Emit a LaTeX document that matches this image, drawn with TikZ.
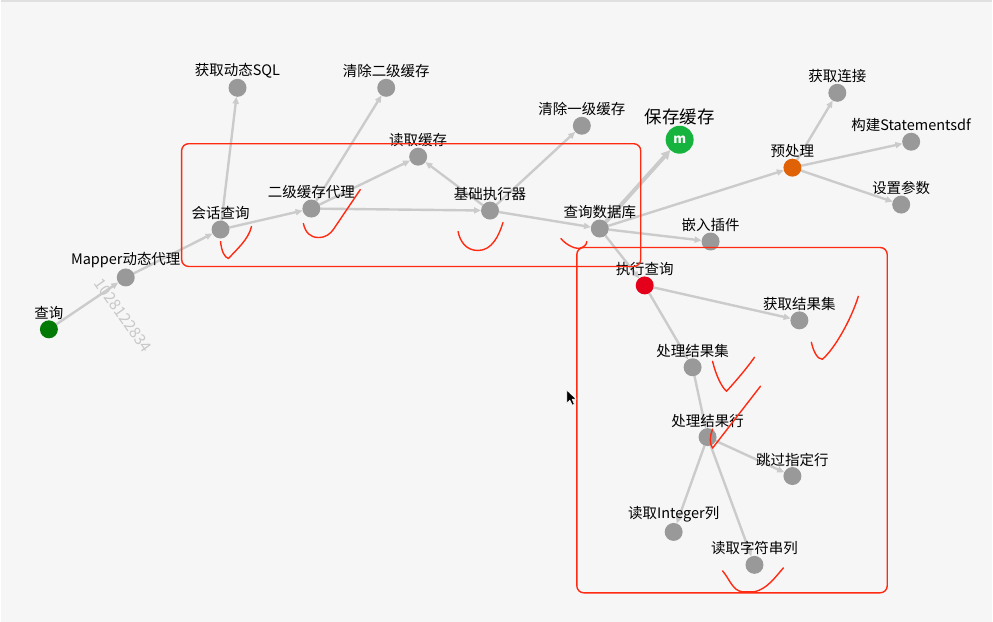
\documentclass[tikz,border=0pt]{standalone}
\usepackage{fontspec}
\setmainfont{Noto Sans CJK SC}
\usetikzlibrary{arrows.meta}
\definecolor{bgc}{HTML}{F6F6F6}
\definecolor{edgec}{HTML}{CBCBCB}
\definecolor{nodec}{HTML}{999999}
\definecolor{markc}{HTML}{FF2A12}
\definecolor{startc}{HTML}{037A06}
\definecolor{savec}{HTML}{16B43E}
\definecolor{prec}{HTML}{E06206}
\definecolor{execc}{HTML}{E4001B}
\definecolor{wmc}{HTML}{C8C8C8}
\pgfdeclarelayer{bglayer}
\pgfdeclarelayer{edgelayer}
\pgfsetlayers{bglayer,edgelayer,main}
\tikzset{
  vtx/.style={circle, fill=nodec, minimum size=18pt, inner sep=0pt, outer sep=0pt},
  lbl/.style={label={[font=\fontsize{14.5}{16}\selectfont, inner sep=0.5pt]above:#1}},
  link/.style={draw=edgec, line width=2.4pt, -{Triangle[length=7pt,width=6pt]}},
  biglink/.style={draw=edgec, line width=4pt, -{Triangle[length=9pt,width=9pt]}},
  redbox/.style={draw=markc, line width=1.4pt, rounded corners=7pt},
  redmark/.style={draw=markc, line width=1.4pt, line cap=round, line join=round},
}
\begin{document}
\begin{tikzpicture}[x=1pt,y=-1pt]
\begin{pgfonlayer}{bglayer}
\fill[bgc] (0,0) rectangle (993,623);
\draw[draw=black!12, line width=2pt] (0,1) -- (993,1);
\end{pgfonlayer}
\useasboundingbox (0,0) rectangle (993,623);

% watermark
\node[text=wmc, rotate=-54.7, font=\fontsize{15.5}{17}\selectfont] (wm) at (122,316) {1028122834};

% nodes
\node[vtx, fill=startc, lbl={查询}] (q) at (48,330) {};
\node[vtx, lbl={Mapper动态代理}] (mp) at (125,278) {};
\node[vtx, lbl={会话查询}] (hh) at (220,230) {};
\node[vtx, lbl={获取动态SQL}] (sql) at (237,88) {};
\node[vtx, lbl={二级缓存代理}] (ej) at (311,209) {};
\node[vtx, lbl={清除二级缓存}] (qe) at (386,88) {};
\node[vtx, lbl={读取缓存}] (dq) at (418,157) {};
\node[vtx, lbl={基础执行器}] (jc) at (490,211) {};
\node[vtx, lbl={清除一级缓存}] (qy) at (582,126) {};
\node[vtx, lbl={查询数据库}] (cs) at (600,229) {};
\node[vtx, fill=savec, minimum size=28pt, text=white,
  label={[font=\fontsize{17.5}{19}\selectfont, inner sep=0.5pt]above:保存缓存}] (bc) at (680,140) {\fontsize{13}{13}\selectfont\bfseries m};
\node[vtx, lbl={嵌入插件}] (qr) at (711,242) {};
\node[vtx, fill=prec, lbl={预处理}] (yc) at (793,168) {};
\node[vtx, lbl={获取连接}] (hl) at (838,93) {};
\node[vtx, lbl={构建Statementsdf}] (gj) at (912,142) {};
\node[vtx, lbl={设置参数}] (sz) at (902,205) {};
\node[vtx, fill=execc, lbl={执行查询}] (zx) at (645,286) {};
\node[vtx, lbl={获取结果集}] (hj) at (800,321) {};
\node[vtx, lbl={处理结果集}] (cj) at (693,368) {};
\node[vtx, lbl={处理结果行}] (ch) at (708,438) {};
\node[vtx, lbl={跳过指定行}] (tg) at (793,477) {};
\node[vtx, lbl={读取Integer列}] (di) at (674,533) {};
\node[vtx, lbl={读取字符串列}] (ds) at (755,566) {};

% edges (behind the texts)
\begin{pgfonlayer}{edgelayer}
\draw[link] (q) -- (mp);
\draw[link] (mp) -- (hh);
\draw[link] (hh) -- (sql);
\draw[link] (hh) -- (ej);
\draw[link] (ej) -- (qe);
\draw[link] (ej) -- (dq);
\draw[link] (ej) -- (jc);
\draw[link] (jc) -- (dq);
\draw[link] (jc) -- (qy);
\draw[link] (jc) -- (cs);
\draw[biglink] (cs) -- (bc);
\draw[link] (cs) -- (yc);
\draw[link] (cs) -- (qr);
\draw[link] (cs) -- (zx);
\draw[link] (yc) -- (hl);
\draw[link] (yc) -- (gj);
\draw[link] (yc) -- (sz);
\draw[link] (zx) -- (hj);
\draw[link] (zx) -- (cj);
\draw[link] (cj) -- (ch);
\draw[link] (ch) -- (tg);
\draw[link] (ch) -- (di);
\draw[link] (ch) -- (ds);
\end{pgfonlayer}

% red boxes
\draw[redbox] (181,144) rectangle (641,267);
\draw[redbox] (577,248) rectangle (888,594);

% hand-drawn red marks
\draw[redmark] (220,242) .. controls (221,252) and (224,258) .. (228,259) .. controls (236,250) and (248,240) .. (251,227);
\draw[redmark] (303,224) .. controls (305,233) and (310,238) .. (318,238) .. controls (326,238) and (330,234) .. (333,230) -- (360,190);
\draw[redmark] (458,232) .. controls (460,242) and (466,251) .. (478,251) .. controls (492,251) and (499,236) .. (503,223);
\draw[redmark] (561,239) .. controls (566,245) and (574,249) .. (579,249) .. controls (584,248) and (587,245) .. (587,242);
\draw[redmark] (812,343) .. controls (814,352) and (818,360) .. (823,360) .. controls (835,350) and (852,320) .. (859,297);
\draw[redmark] (713,362) .. controls (716,375) and (722,388) .. (727,392) .. controls (738,380) and (748,368) .. (755,358);
\draw[redmark] (713,430) .. controls (710,437) and (710,445) .. (713,449) -- (761,387);
\draw[redmark] (723,572) .. controls (730,580) and (733,592) .. (743,593) -- (755,593) .. controls (768,590) and (776,578) .. (784,569);

% mouse cursor
\filldraw[fill=black, draw=white, line width=0.6pt, line join=round]
  (567,391) -- (567,404) -- (570,401) -- (572.5,406) -- (574.5,405) -- (572.3,400) -- (576.5,400) -- cycle;
\end{tikzpicture}
\end{document}
